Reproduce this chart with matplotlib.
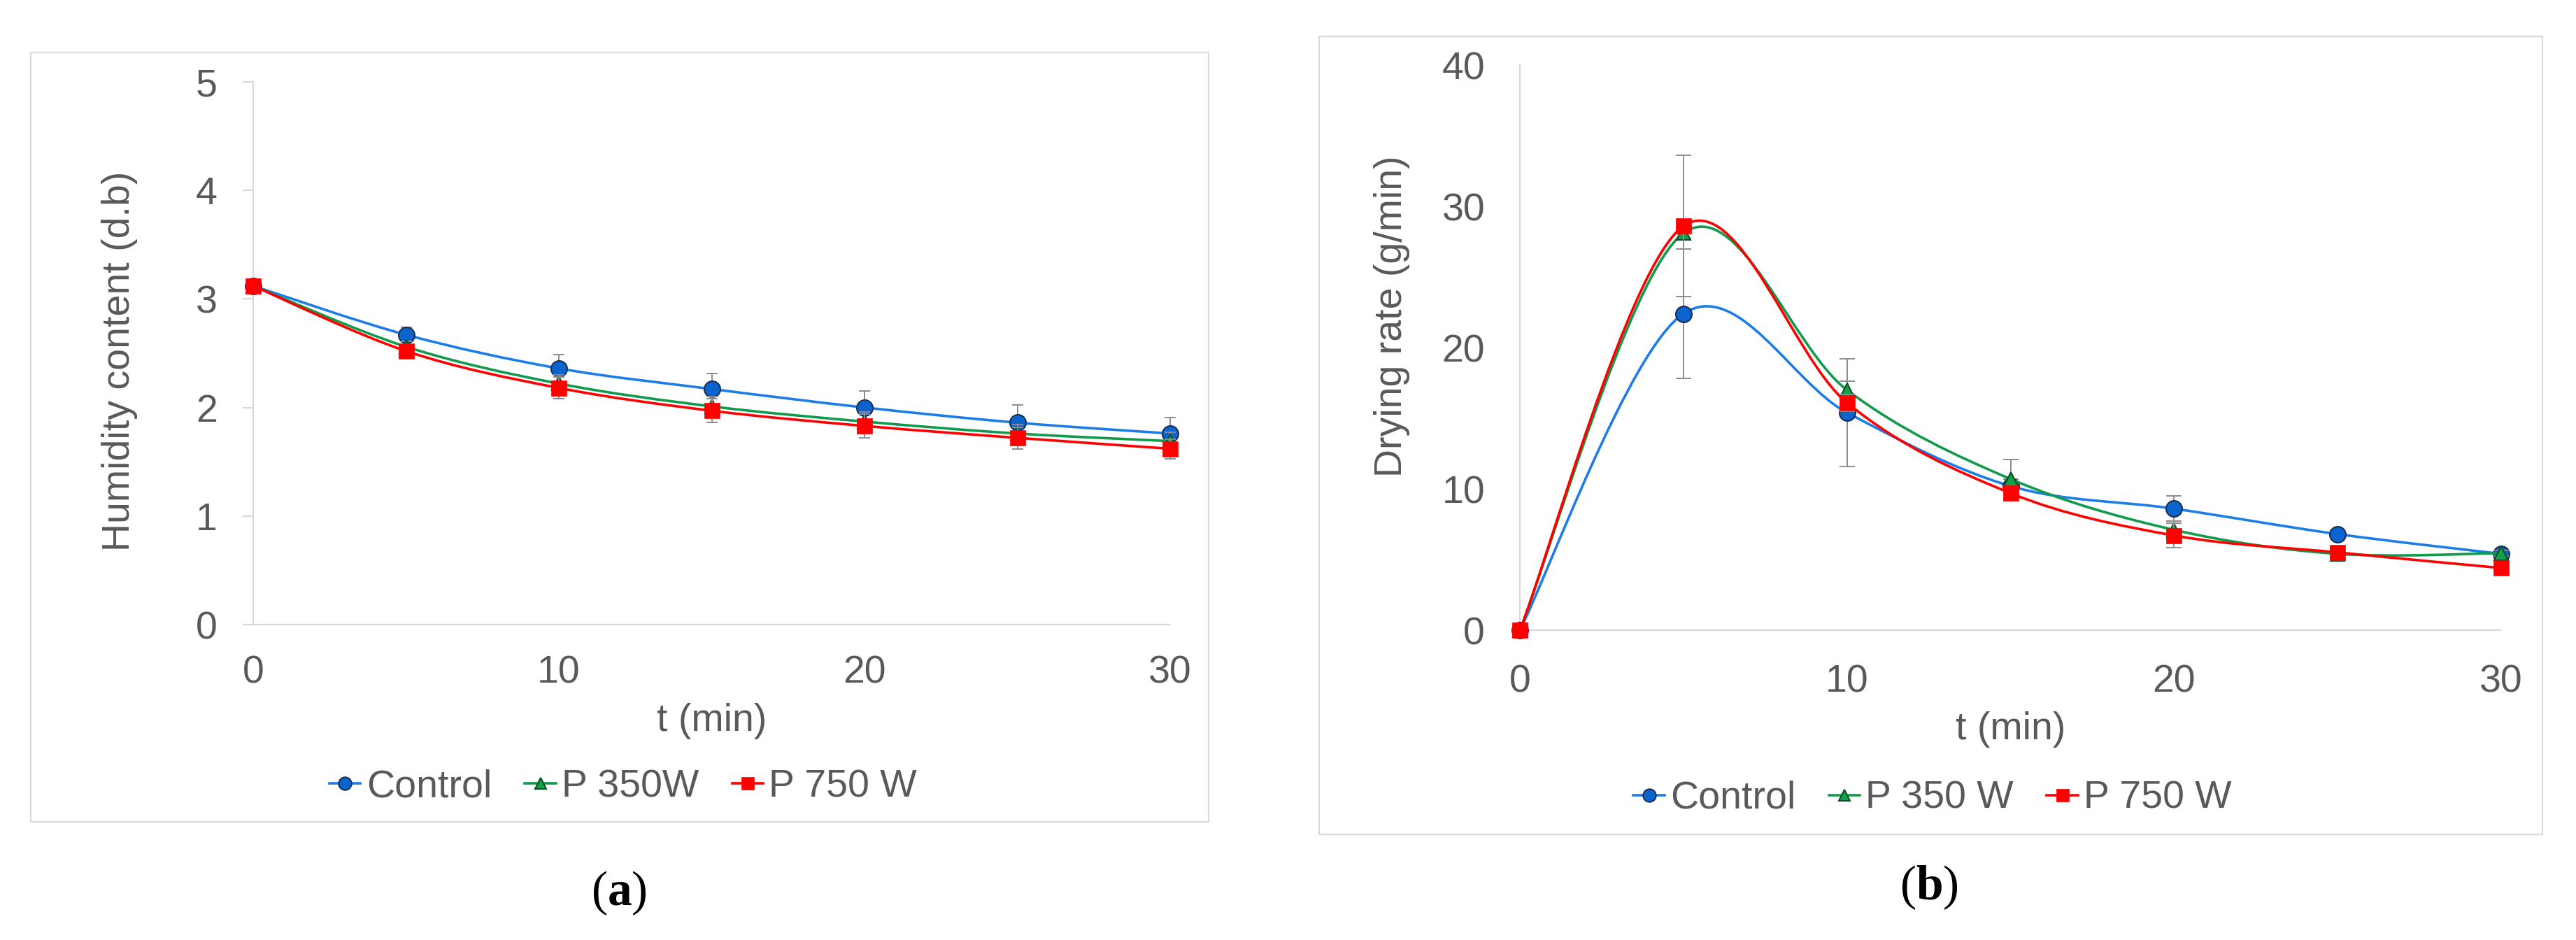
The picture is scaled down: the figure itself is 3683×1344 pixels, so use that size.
import matplotlib
matplotlib.use("Agg")
import matplotlib.pyplot as plt
from matplotlib.path import Path
from matplotlib.patches import PathPatch, Rectangle
from matplotlib.lines import Line2D

# Data
t_min = [0, 5, 10, 15, 20, 25, 30]

# (a) humidity content (d.b)
hum_control = [3.12, 2.67, 2.36, 2.17, 2.00, 1.86, 1.76]
hum_p350 = [3.12, 2.56, 2.22, 2.01, 1.87, 1.76, 1.69]
hum_p750 = [3.12, 2.52, 2.18, 1.97, 1.83, 1.72, 1.62]
hum_control_err = [0.0, 0.07, 0.13, 0.14, 0.15, 0.16, 0.15]
hum_p350_err = [0.0, 0.05, 0.08, 0.09, 0.09, 0.08, 0.08]
hum_p750_err = [0.0, 0.05, 0.10, 0.11, 0.11, 0.10, 0.09]

# (b) drying rate (g/min)
rate_control = [0, 22.4, 15.4, 10.2, 8.6, 6.8, 5.4]
rate_p350 = [0, 28.1, 17.0, 10.7, 7.1, 5.4, 5.45]
rate_p750 = [0, 28.6, 16.1, 9.7, 6.7, 5.5, 4.4]
rate_control_err = [0, 4.6, 3.8, 0.5, 0.9, 0.3, 0.2]
rate_p350_err = [0, 0.4, 0.6, 1.4, 0.6, 0.3, 0.2]
rate_p750_err = [0, 5.0, 0.6, 0.5, 0.85, 0.3, 0.2]

series_names_a = ["Control", "P 350W", "P 750 W"]
series_names_b = ["Control", "P 350 W", "P 750 W"]

plt.rcParams["font.family"] = ["Liberation Sans", "DejaVu Sans"]
plt.rcParams["mathtext.fontset"] = "custom"
plt.rcParams["mathtext.rm"] = "Liberation Serif"
plt.rcParams["mathtext.bf"] = "Liberation Serif:bold"

W, H = 3683, 1344
fig = plt.figure(figsize=(W / 100, H / 100), dpi=100)

GREY = "#595959"
AXIS = "#D9D9D9"
FS = 40

styles = [
    dict(color="#1C7CE8", marker="o", mfc="#0B63CE", mec="#1B2F55", ms=16.5, mew=1.5),
    dict(color="#109A4C", marker="^", mfc="#13A04B", mec="#0B4D22", ms=15, mew=1.5),
    dict(color="#FF0000", marker="s", mfc="#FF0000", mec="#FF0000", ms=16, mew=0.5),
]


def px_axes(l, t, r, b):
    return fig.add_axes([l / W, 1 - b / H, (r - l) / W, (b - t) / H])


def smooth_path(x, y):
    # Excel-like smoothed line: cubic Bezier with Catmull-Rom tangents
    n = len(x)
    verts = [(x[0], y[0])]
    codes = [Path.MOVETO]
    for i in range(n - 1):
        x0, y0 = (x[i - 1], y[i - 1]) if i > 0 else (x[i], y[i])
        x1, y1 = x[i], y[i]
        x2, y2 = x[i + 1], y[i + 1]
        x3, y3 = (x[i + 2], y[i + 2]) if i + 2 < n else (x2, y2)
        c1 = (x1 + (x2 - x0) / 6, y1 + (y2 - y0) / 6)
        c2 = (x2 - (x3 - x1) / 6, y2 - (y3 - y1) / 6)
        verts += [c1, c2, (x2, y2)]
        codes += [Path.CURVE4] * 3
    return Path(verts, codes)


def panel(ax, ys, errs, ymax, ystep, capsize, ytick_len, xpad):
    ax.set_xlim(0, 30)
    ax.set_ylim(0, ymax)
    for s in ["top", "right"]:
        ax.spines[s].set_visible(False)
    for s in ["left", "bottom"]:
        ax.spines[s].set_color(AXIS)
        ax.spines[s].set_linewidth(1.6)
    ax.set_xticks([0, 10, 20, 30])
    ax.set_yticks(range(0, ymax + 1, ystep))
    ax.tick_params(axis="x", length=0, pad=xpad, labelsize=FS, labelcolor=GREY)
    ax.tick_params(axis="y", length=ytick_len, width=1.6, color=AXIS,
                   pad=36 * 0.72 if ytick_len else 50 * 0.72, labelsize=FS, labelcolor=GREY)
    handles = []
    for k, (yv, ev, st) in enumerate(zip(ys, errs, styles)):
        z = 3 + k
        ax.add_patch(PathPatch(smooth_path(t_min, yv), fill=False, edgecolor=st["color"],
                               lw=2.6, zorder=z, capstyle="round"))
        ax.errorbar(t_min, yv, yerr=ev, fmt="none", ecolor="#8C8C8C", elinewidth=1.4,
                    capsize=capsize, capthick=1.4, zorder=z, clip_on=False)
        ax.plot(t_min, yv, linestyle="none", marker=st["marker"], ms=st["ms"],
                mfc=st["mfc"], mec=st["mec"], mew=st["mew"], zorder=z + 0.5, clip_on=False)
        handles.append(Line2D([], [], color=st["color"], lw=2.6, marker=st["marker"],
                              ms=st["ms"] * 0.8, mfc=st["mfc"], mec=st["mec"], mew=st["mew"]))
    return handles


def legend(ax, handles, names, cx, cy):
    ax.legend(handles, names, loc="center", bbox_to_anchor=(cx / W, 1 - cy / H),
              bbox_transform=fig.transFigure, ncol=3, frameon=False, fontsize=FS,
              handlelength=0.8, handletextpad=0.15, columnspacing=0.85, labelcolor=GREY,
              borderaxespad=0, borderpad=0)


# panel (a)
axa = px_axes(362, 117, 1673, 893)
ha = panel(axa, [hum_control, hum_p350, hum_p750],
           [hum_control_err, hum_p350_err, hum_p750_err], 5, 1, 6, 11, 31)
axa.set_xlabel("t (min)", fontsize=FS, color=GREY, va="center")
axa.xaxis.set_label_coords(0.5, (893 - 1031) / 776)
axa.set_ylabel("Humidity content (d.b)", fontsize=FS, color=GREY, va="center")
axa.yaxis.set_label_coords((171 - 362) / 1311, (893 - 516) / 776)
legend(axa, ha, series_names_a, 891, 1125)

# panel (b)
axb = px_axes(2173, 93, 3576, 901)
hb = panel(axb, [rate_control, rate_p350, rate_p750],
           [rate_control_err, rate_p350_err, rate_p750_err], 40, 10, 8, 0, 35)
axb.set_xlabel("t (min)", fontsize=FS, color=GREY, va="center")
axb.xaxis.set_label_coords(0.5, (901 - 1043) / 808)
axb.set_ylabel("Drying rate (g/min)", fontsize=FS, color=GREY, va="center")
axb.yaxis.set_label_coords((1990 - 2173) / 1403, (901 - 452) / 808)
legend(axb, hb, series_names_b, 2763, 1142)

# chart area borders
for l, t, r, b in [(44, 75, 1728, 1175), (1886, 52, 3635, 1193)]:
    fig.add_artist(Rectangle((l / W, 1 - b / H), (r - l) / W, (b - t) / H,
                             transform=fig.transFigure, fill=False,
                             edgecolor="#DADADA", lw=1.6, zorder=0))

# sub-figure captions
for x, y, letter in [(885, 1277, "a"), (2758, 1269, "b")]:
    fig.text(x / W, 1 - y / H, r"$\mathrm{(}\mathbf{" + letter + r"}\mathrm{)}$",
             fontsize=50, ha="center", va="center", color="black")

fig.savefig("out.png", dpi=100, facecolor="white")
